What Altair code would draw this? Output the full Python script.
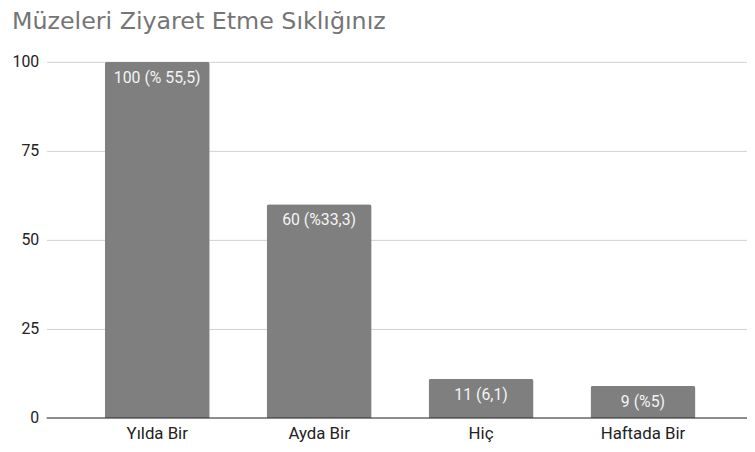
import altair as alt
import pandas as pd

categories = ["Yılda Bir", "Ayda Bir", "Hiç", "Haftada Bir"]
values = [100, 60, 11, 9]
labels = ["100 (% 55,5)", "60 (%33,3)", "11 (6,1)", "9 (%5)"]
y_ticks = [0, 25, 50, 75, 100]

df = pd.DataFrame({"cat": categories, "val": values, "lab": labels})
zero = pd.DataFrame({"z": [0]})

FONT = "Roboto"

x = alt.X("cat:N", sort=categories, title=None,
          scale=alt.Scale(paddingInner=0.352, paddingOuter=0.339, align=0.53),
          axis=alt.Axis(labelAngle=0, labelFontSize=17, labelColor="#222222",
                        labelFont=FONT, domain=False, ticks=False, labelPadding=8))
y = alt.Y("val:Q", title=None,
          scale=alt.Scale(domain=[0, 100], nice=False),
          axis=alt.Axis(values=y_ticks, labelFontSize=16, labelColor="#222222",
                        labelFont=FONT, domain=False, ticks=False, labelPadding=8,
                        gridColor="#d0d0d0", gridWidth=1))

bars = alt.Chart(df).mark_bar(color="#7f7f7f", cornerRadiusTopLeft=2.5,
                              cornerRadiusTopRight=2.5).encode(x=x, y=y)

text = alt.Chart(df).mark_text(color="#f4f4f4", fontSize=16, font=FONT,
                               baseline="alphabetic", dy=21).encode(
    x=alt.X("cat:N", sort=categories), y="val:Q", text="lab:N")

base = alt.Chart(zero).mark_rule(color="#333333", strokeWidth=1).encode(
    y="z:Q", x=alt.value(0), x2=alt.value(708))

chart = alt.layer(bars, text, base).properties(
    width=708, height=360,
    title=alt.TitleParams("Müzeleri Ziyaret Etme Sıklığınız", anchor="start",
                          font="DejaVu Sans", fontSize=24, fontWeight="normal",
                          color="#757575", frame="bounds", offset=20),
    autosize=alt.AutoSizeParams(type="none"),
    padding={"left": 39, "top": 52, "right": 0, "bottom": 32},
).configure_view(stroke=None)

chart.save("out.html", embed_options={"renderer": "svg", "actions": False})
